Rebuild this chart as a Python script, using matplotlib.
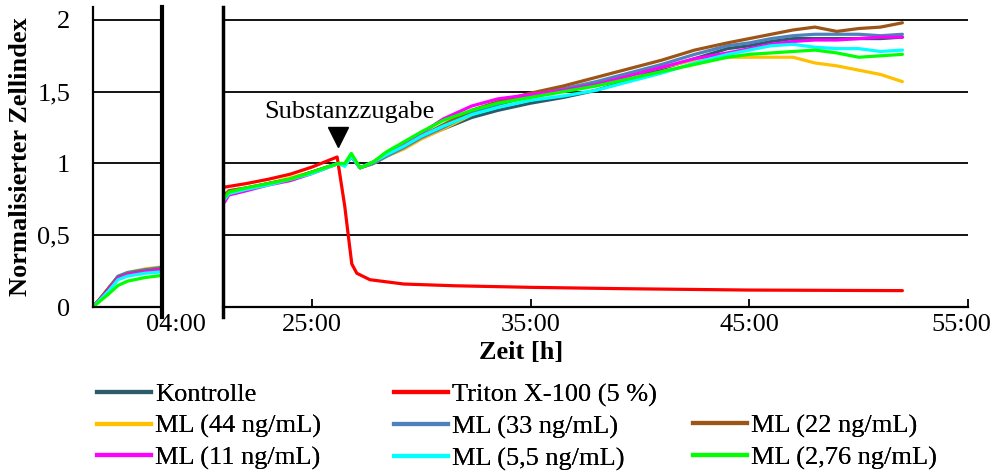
import matplotlib
matplotlib.use("Agg")
import matplotlib.pyplot as plt
import matplotlib.transforms as mtransforms
from matplotlib.lines import Line2D

plt.rcParams['font.family'] = ['Liberation Serif', 'DejaVu Sans']

# --- data (hours, normalised cell index) ---
names = ["Kontrolle", "Triton X-100 (5 %)", "ML (44 ng/mL)", "ML (33 ng/mL)",
         "ML (22 ng/mL)", "ML (11 ng/mL)", "ML (5,5 ng/mL)", "ML (2,76 ng/mL)"]
colors = ["#2B5A6A", "#FF0000", "#FFC000", "#4F81BD",
          "#9C5517", "#FF00FF", "#00FFFF", "#00FF00"]

# first part of the measurement (0-4 h)
t_left = [0, 0.5, 0.9, 1.45, 2.0, 3.0, 4.0]
left_vals = [
    [0, 0.07, 0.13, 0.21, 0.235, 0.255, 0.27],    # Kontrolle
    [0, 0.065, 0.12, 0.20, 0.225, 0.245, 0.26],   # Triton
    [0, 0.07, 0.13, 0.21, 0.24, 0.265, 0.28],     # ML 44
    [0, 0.07, 0.13, 0.215, 0.24, 0.26, 0.275],    # ML 33
    [0, 0.07, 0.13, 0.205, 0.23, 0.25, 0.265],    # ML 22
    [0, 0.065, 0.12, 0.20, 0.225, 0.245, 0.26],   # ML 11
    [0, 0.06, 0.11, 0.19, 0.215, 0.235, 0.245],   # ML 5,5
    [0, 0.05, 0.09, 0.15, 0.18, 0.205, 0.22],     # ML 2,76
]

# second part (21-52 h)
t_right = [21.0, 21.2, 22, 23, 24, 25, 26.2, 26.5, 26.8, 27.2, 27.8, 28.4, 29.2, 30, 31,
           32.3, 33.5, 35, 36.5, 38, 39.5, 41, 42.5, 44, 45, 46, 47, 48, 49, 50, 51, 52]
kontrolle = [0.77, 0.80, 0.82, 0.86, 0.89, 0.94, 1.00, 0.99, 1.05, 0.97, 1.00, 1.05, 1.11, 1.18, 1.24,
             1.32, 1.37, 1.42, 1.46, 1.51, 1.58, 1.66, 1.73, 1.80, 1.82, 1.85, 1.87, 1.87, 1.87, 1.87, 1.87, 1.88]
ml44 = [0.78, 0.81, 0.83, 0.86, 0.90, 0.94, 1.00, 0.99, 1.05, 0.97, 1.00, 1.05, 1.10, 1.17, 1.24,
        1.34, 1.42, 1.48, 1.52, 1.56, 1.62, 1.67, 1.72, 1.74, 1.74, 1.74, 1.74, 1.70, 1.68, 1.65, 1.62, 1.57]
ml33 = [0.77, 0.80, 0.82, 0.86, 0.89, 0.94, 1.00, 0.99, 1.05, 0.97, 1.00, 1.05, 1.11, 1.18, 1.25,
        1.35, 1.41, 1.47, 1.52, 1.57, 1.63, 1.69, 1.76, 1.82, 1.84, 1.87, 1.89, 1.90, 1.90, 1.90, 1.89, 1.90]
ml22 = [0.78, 0.81, 0.83, 0.86, 0.89, 0.94, 1.00, 0.99, 1.05, 0.97, 1.01, 1.06, 1.12, 1.19, 1.27,
        1.37, 1.43, 1.49, 1.54, 1.60, 1.66, 1.72, 1.79, 1.84, 1.87, 1.90, 1.93, 1.95, 1.92, 1.94, 1.95, 1.98]
ml11 = [0.73, 0.78, 0.81, 0.85, 0.88, 0.93, 1.00, 0.99, 1.05, 0.97, 1.01, 1.07, 1.13, 1.21, 1.31,
        1.40, 1.45, 1.48, 1.51, 1.55, 1.61, 1.67, 1.73, 1.77, 1.80, 1.83, 1.85, 1.86, 1.86, 1.87, 1.88, 1.88]
ml55 = [0.75, 0.79, 0.82, 0.85, 0.89, 0.93, 1.00, 0.98, 1.05, 0.97, 1.01, 1.06, 1.12, 1.19, 1.26,
        1.34, 1.39, 1.44, 1.47, 1.51, 1.57, 1.63, 1.70, 1.76, 1.79, 1.82, 1.83, 1.81, 1.80, 1.80, 1.78, 1.79]
ml276 = [0.76, 0.80, 0.83, 0.86, 0.89, 0.94, 1.00, 1.00, 1.07, 0.97, 1.01, 1.08, 1.15, 1.22, 1.30,
         1.37, 1.42, 1.46, 1.50, 1.54, 1.59, 1.64, 1.69, 1.74, 1.76, 1.77, 1.78, 1.79, 1.77, 1.74, 1.75, 1.76]

t_triton = [21.0, 22, 23, 24, 25, 26.15, 26.5, 26.65, 26.82, 27.05, 27.65, 29.2, 31.5, 35, 39, 45, 52]
triton = [0.835, 0.86, 0.89, 0.925, 0.975, 1.045, 0.70, 0.51, 0.30, 0.235, 0.19, 0.16, 0.148,
          0.137, 0.128, 0.118, 0.114]

right_series = [(t_right, kontrolle), (t_triton, triton), (t_right, ml44), (t_right, ml33),
                (t_right, ml22), (t_right, ml11), (t_right, ml55), (t_right, ml276)]

add_time = 26.2  # Substanzzugabe

y_ticks = [0, 0.5, 1, 1.5, 2]
y_labels = ["0", "0,5", "1", "1,5", "2"]
x_ticks_right = [25, 35, 45, 55]
x_labels_right = ["25:00", "35:00", "45:00", "55:00"]

fs = 19
W, H = 993, 472
fig = plt.figure(figsize=(W / 100, H / 100), dpi=100)
ax_l = fig.add_axes([93 / W, 165 / H, 69 / W, 300 / H])
ax_r = fig.add_axes([223 / W, 165 / H, 745 / W, 300 / H])

for ax in (ax_l, ax_r):
    ax.set_ylim(0, 2.09)
    ax.set_yticks(y_ticks)
    ax.yaxis.grid(True, color="black", lw=1.3)
    ax.set_axisbelow(True)
    ax.spines["top"].set_visible(False)
    ax.spines["right"].set_visible(False)
    ax.spines["bottom"].set_linewidth(1.6)

# left panel
for vals, c in zip(left_vals, colors):
    ax_l.plot(t_left, vals, color=c, lw=2.3, solid_capstyle="round")
ax_l.set_xlim(0, 4)
ax_l.set_xticks([4])
ax_l.set_xticklabels(["04:00"], fontsize=fs)
ax_l.tick_params(axis="x", length=0, pad=5)
for lab in ax_l.get_xticklabels():
    lab.set_transform(lab.get_transform() + mtransforms.ScaledTranslation(14 / 100, 0, fig.dpi_scale_trans))
ax_l.set_yticklabels(y_labels, fontsize=fs)
ax_l.tick_params(axis="y", length=0, pad=16.5)
ax_l.spines["left"].set_linewidth(1.6)
ax_l.plot([1, 1], [-0.033, 1], transform=ax_l.transAxes, color="black", lw=3.0, clip_on=False)
ax_l.set_ylabel("Normalisierter Zellindex", fontsize=fs, fontweight="bold")
ax_l.yaxis.set_label_coords(-0.88, 0.5)

# right panel
for (tt, vals), c in zip(right_series, colors):
    ax_r.plot(tt, vals, color=c, lw=2.3, solid_capstyle="round")
ax_r.set_xlim(20.93, 55)
ax_r.set_xticks(x_ticks_right)
ax_r.set_xticklabels(x_labels_right, fontsize=fs)
ax_r.tick_params(axis="x", direction="in", length=6, width=1.3, pad=5)
last = ax_r.get_xticklabels()[-1]
last.set_transform(last.get_transform() + mtransforms.ScaledTranslation(-7 / 100, 0, fig.dpi_scale_trans))
ax_r.tick_params(axis="y", length=0, labelleft=False)
ax_r.spines["left"].set_visible(False)
ax_r.plot([0, 0], [-0.033, 1], transform=ax_r.transAxes, color="black", lw=2.5, clip_on=False)
ax_r.set_xlabel("Zeit [h]", fontsize=fs, fontweight="bold")
ax_r.xaxis.set_label_coords((521 - 223) / 745, -0.115)

ax_r.text(26.69, 1.36, "Substanzzugabe", fontsize=fs, ha="center", va="center")
ax_r.plot([add_time], [1.185], marker="v", ms=15, color="black")

# legend in three columns of equal width
handles = [Line2D([], [], color=c, lw=3) for c in colors]
cols = [([0, 2, 5], 97, 383), ([1, 3, 6], 394, 383), ([4, 7], 693, 414)]
for idx, x0, y0 in cols:
    leg = fig.legend([handles[i] for i in idx], [names[i] for i in idx],
                     loc="upper left", bbox_to_anchor=(x0 / W, 1 - y0 / H),
                     frameon=False, fontsize=fs, handlelength=2.05, handletextpad=0.15,
                     borderpad=0, borderaxespad=0, labelspacing=0.3)
    fig.add_artist(leg)

fig.savefig("out.png", dpi=100)
